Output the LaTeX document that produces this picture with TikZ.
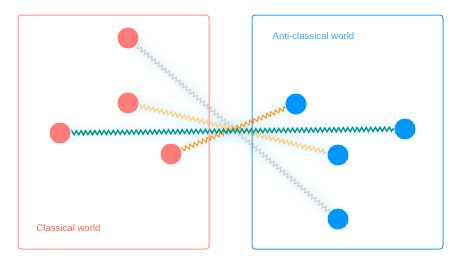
\documentclass[tikz,border=0pt]{standalone}
\usepackage{fontspec}
\setmainfont{Liberation Sans}
\usetikzlibrary{decorations.pathmorphing,backgrounds}
\definecolor{classic}{HTML}{FF7B78}
\definecolor{classicline}{HTML}{FF8C8A}
\definecolor{classictext}{HTML}{F4604F}
\definecolor{anti}{HTML}{0096FF}
\definecolor{antiline}{HTML}{2A9DF4}
\definecolor{antitext}{HTML}{3BA3F5}
\definecolor{teal}{HTML}{00968A}
\definecolor{amber}{HTML}{FF9A0A}
\definecolor{sand}{HTML}{FFD06A}
\definecolor{ash}{HTML}{CFCFCF}
\definecolor{glow}{HTML}{C4E6FA}
\tikzset{
  x=1pt,y=-1pt,
  every node/.style={font=\fontsize{9.6}{11}\selectfont},
  world/.style={rounded corners=3pt,line width=1pt},
  cworld/.style={world,draw=classicline},
  aworld/.style={world,draw=antiline},
  ball/.style={circle,minimum size=21pt,inner sep=0pt},
  cball/.style={ball,fill=classic},
  aball/.style={ball,fill=anti},
  wave/.style={decorate,decoration={zigzag,segment length=4.6pt,amplitude=2pt},line width=1pt,shorten <=2pt},
  halo/.style={draw=glow,line cap=round},
}

\begin{document}
\begin{tikzpicture}
  \useasboundingbox (0,0) rectangle (457,257);
  \node[cball] (c1) at (128,38) {};
  \node[cball] (c2) at (128,103) {};
  \node[cball] (c3) at (60,133) {};
  \node[cball] (c4) at (171,154) {};
  \node[aball] (a1) at (296,104) {};
  \node[aball] (a2) at (405,129) {};
  \node[aball] (a3) at (338,155) {};
  \node[aball] (a4) at (338,219) {};

  % soft halo behind the links
  \begin{scope}[on background layer]
    \foreach \a/\b in {c1/a4,c2/a3,c3/a2,c4/a1}{
      \draw[halo,line width=22pt,opacity=0.08] (\a) -- (\b);
      \draw[halo,line width=14pt,opacity=0.12] (\a) -- (\b);
      \draw[halo,line width=7pt,opacity=0.18] (\a) -- (\b);
    }
  \end{scope}

  \draw[wave,draw=ash] (c1) -- (a4);
  \draw[wave,draw=sand] (c2) -- (a3);
  \draw[wave,draw=amber] (c4) -- (a1);
  \draw[wave,draw=teal,line width=1.3pt] (c3) -- (a2);

  \draw[cworld] (18,15) rectangle (209,249);
  \draw[aworld] (252,15) rectangle (443,249);
  \node[text=classictext] (ctext) at (68.5,228) {Classical world};
  \node[text=antitext] (atext) at (313.5,36) {Anti-classical world};
\end{tikzpicture}
\end{document}
